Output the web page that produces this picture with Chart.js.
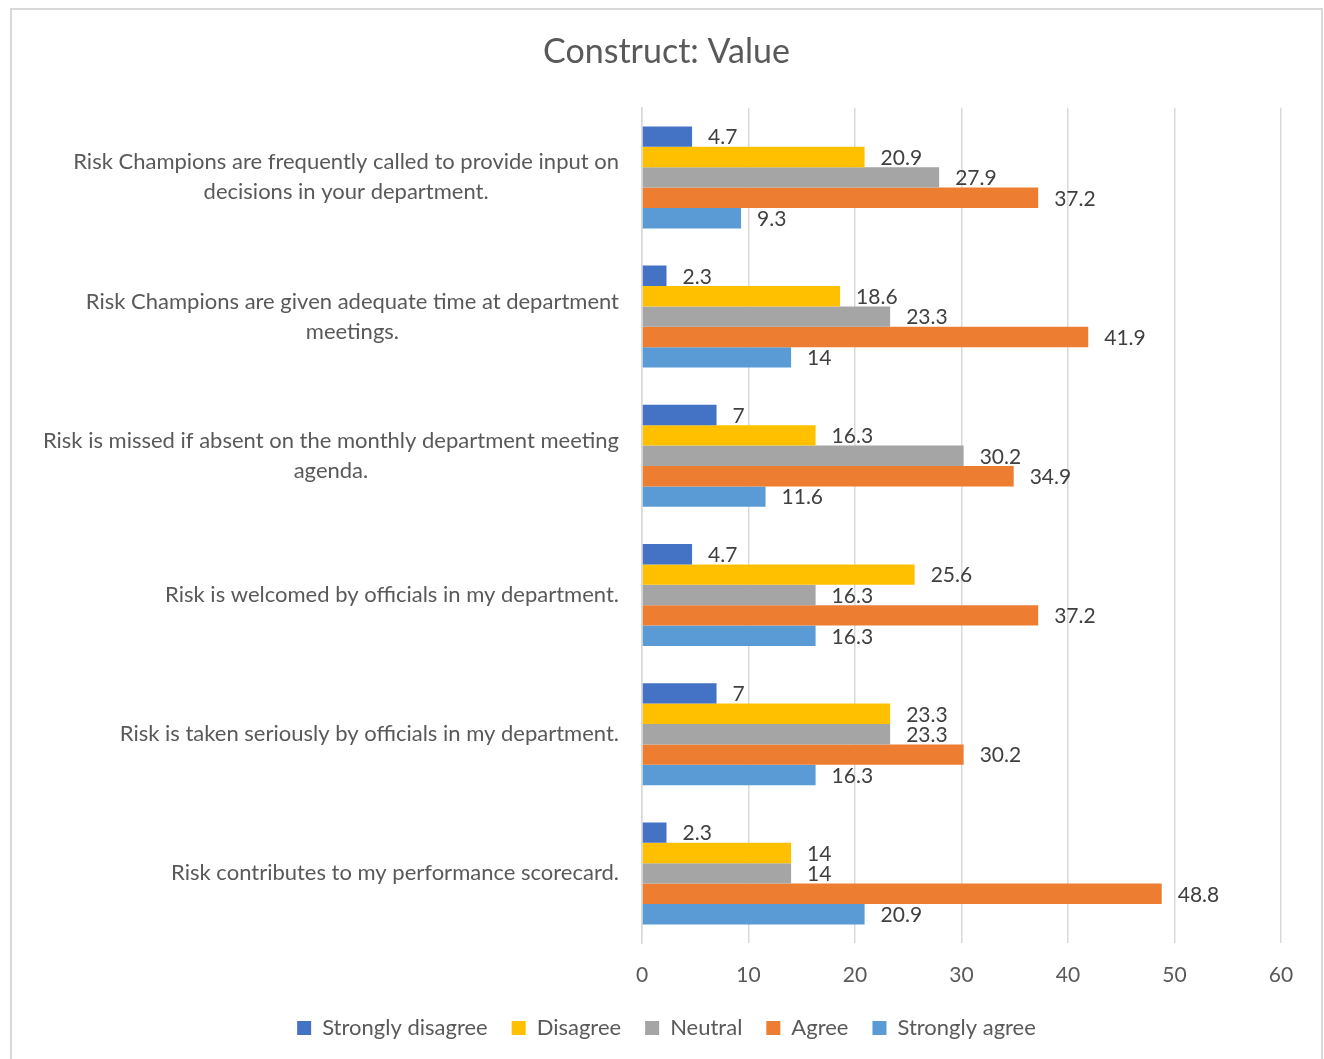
<!DOCTYPE html>
<html>
<head>
<meta charset="utf-8">
<script src="https://cdn.jsdelivr.net/npm/chart.js@4.4.1/dist/chart.umd.min.js"></script>
<style>
  body { margin: 0; background: #fff; }
  #frame {
    position: absolute; left: 10px; top: 8px;
    width: 1313px; height: 1060px;
    border: 2px solid #d9d9d9; box-sizing: border-box;
  }
  #chart { position: absolute; left: 0; top: 0; }
</style>
</head>
<body>
<div id="frame"><canvas id="chart" width="1309" height="1049"></canvas></div>
<script>
const categories = [
    ["Risk Champions are frequently called to provide input on", "decisions in your department."],
    ["Risk Champions are given adequate time at department", "meetings."],
    ["Risk is missed if absent on the monthly department meeting", "agenda."],
    ["Risk is welcomed by officials in my department."],
    ["Risk is taken seriously by officials in my department."],
    ["Risk contributes to my performance scorecard."],
];

const seriesNames = ["Strongly disagree", "Disagree", "Neutral", "Agree", "Strongly agree"];
const strongDisagree = [4.7, 2.3, 7, 4.7, 7, 2.3];
const disagree = [20.9, 18.6, 16.3, 25.6, 23.3, 14];
const neutral = [27.9, 23.3, 30.2, 16.3, 23.3, 14];
const agree = [37.2, 41.9, 34.9, 37.2, 30.2, 48.8];
const strongAgree = [9.3, 14, 11.6, 16.3, 16.3, 20.9];
const xTicks = [0, 10, 20, 30, 40, 50, 60];

const colors = ["#4472c4", "#ffc000", "#a5a5a5", "#ed7d31", "#5b9bd5"];
const fontName = "Lato";
const textColor = "#595959";

// value labels at the end of every bar
const valueLabels = {
    id: "valueLabels",
    afterDatasetsDraw(chart) {
        const ctx = chart.ctx;
        ctx.save();
        ctx.font = "21px " + fontName;
        ctx.fillStyle = "#404040";
        ctx.textAlign = "left";
        ctx.textBaseline = "middle";
        chart.data.datasets.forEach((ds, i) => {
            chart.getDatasetMeta(i).data.forEach((bar, j) => {
                ctx.fillText(String(ds.data[j]), bar.x + 16, bar.y + 1);
            });
        });
        ctx.restore();
    }
};

// category labels: block right-aligned, lines centred inside the block
const categoryLabels = {
    id: "categoryLabels",
    afterDraw(chart) {
        const ctx = chart.ctx;
        const yScale = chart.scales.y;
        const right = chart.chartArea.left - 23;
        const lineH = 30;
        ctx.save();
        ctx.font = "22px " + fontName;
        ctx.fillStyle = textColor;
        ctx.textAlign = "center";
        ctx.textBaseline = "middle";
        categories.forEach((lines, i) => {
            const w = Math.max(...lines.map(l => ctx.measureText(l).width));
            const cx = right - w / 2;
            const cy = yScale.getPixelForValue(i);
            const top = cy - (lines.length - 1) * lineH / 2;
            lines.forEach((l, k) => ctx.fillText(l, cx, top + k * lineH));
        });
        ctx.restore();
    }
};

const datasets = [strongDisagree, disagree, neutral, agree, strongAgree].map((d, i) => ({
    label: seriesNames[i],
    data: d,
    backgroundColor: colors[i],
    borderWidth: 0,
    categoryPercentage: 0.733,
    barPercentage: 1,
}));

new Chart(document.getElementById("chart"), {
    type: "bar",
    data: {
        labels: categories.map(c => c.join(" ")),
        datasets: datasets,
    },
    options: {
        responsive: false,
        animation: false,
        indexAxis: "y",
        layout: { padding: { left: 40, right: 40, top: 0, bottom: 10 } },
        scales: {
            x: {
                min: 0,
                max: 60,
                afterBuildTicks: (scale) => { scale.ticks = xTicks.map(v => ({ value: v })); },
                afterFit: (scale) => { scale.height = 50; },
                grid: { color: "#d9d9d9", lineWidth: 1.5, drawTicks: false },
                border: { display: false },
                ticks: { padding: 20, color: textColor, font: { family: fontName, size: 21 } },
            },
            y: {
                afterFit: (scale) => { scale.width = 590; },
                grid: { display: false },
                border: { display: true, color: "#d9d9d9", width: 1.5 },
                ticks: { display: false },
            },
        },
        plugins: {
            title: {
                display: true,
                text: "Construct: Value",
                color: textColor,
                font: { family: fontName, size: 34, weight: "normal" },
                padding: { top: 22, bottom: 35 },
            },
            legend: {
                position: "bottom",
                labels: {
                    boxWidth: 14,
                    boxHeight: 14,
                    padding: 24,
                    color: textColor,
                    font: { family: fontName, size: 22 },
                },
            },
            tooltip: { enabled: false },
        },
    },
    plugins: [valueLabels, categoryLabels],
});
</script>
</body>
</html>
